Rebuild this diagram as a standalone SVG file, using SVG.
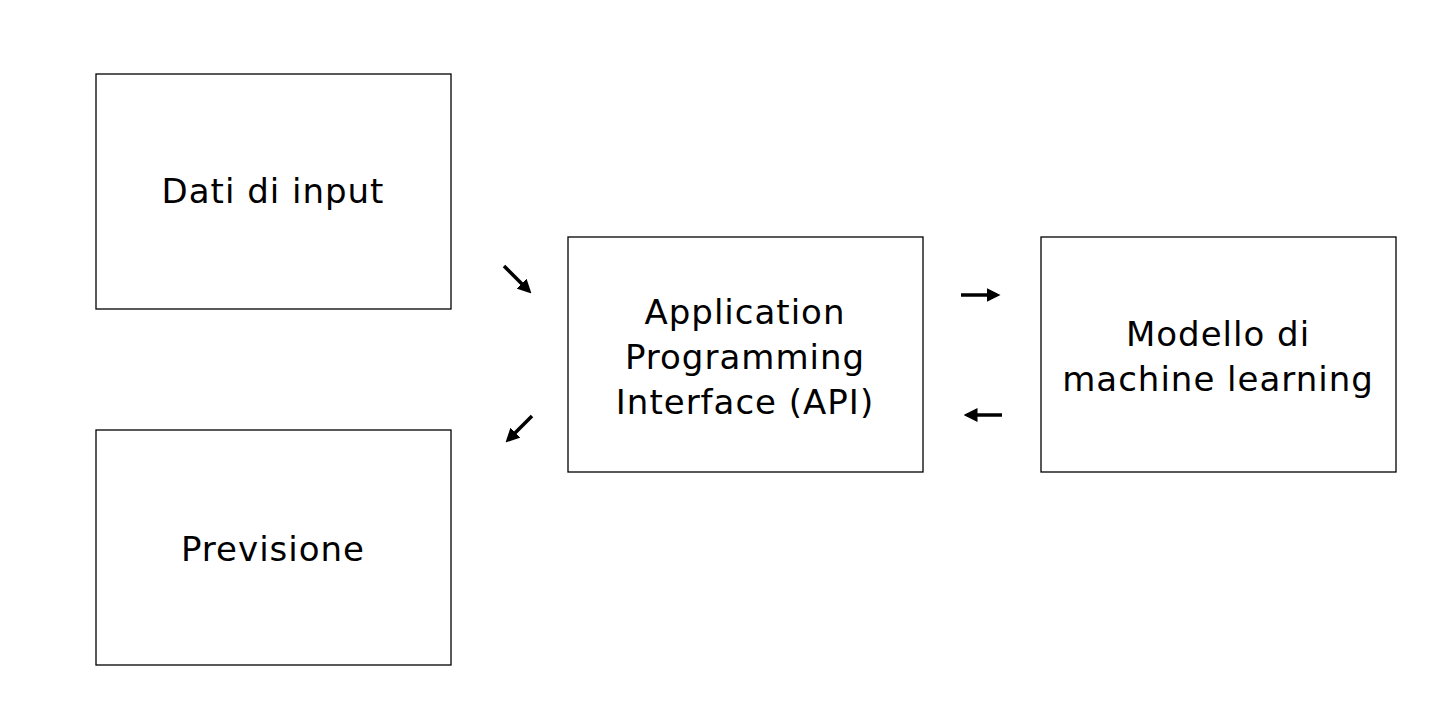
<svg xmlns="http://www.w3.org/2000/svg" width="1440" height="720" viewBox="0 0 1440 720">
<style>
.box{fill:#fff;stroke:#000;stroke-width:1.3}
text{font-family:"DejaVu Sans","Liberation Sans",sans-serif;font-size:34px;letter-spacing:1px;fill:#000;text-anchor:middle}
.c{stroke:#000;stroke-width:3.5;fill:none;marker-end:url(#ah)}
</style>
<defs><marker id="ah" markerWidth="4" markerHeight="4" refX="3" refY="2" orient="auto"><path d="M0,0 L4,2 L0,4 Z" fill="#000"/></marker></defs>
<rect width="1440" height="720" fill="#fff"/>
<g id="input"><rect class="box" x="96" y="74" width="355" height="235"/><text x="273" y="203">Dati di input</text></g>
<g id="previsione"><rect class="box" x="96" y="430" width="355" height="235"/><text x="273" y="561">Previsione</text></g>
<g id="api"><rect class="box" x="568" y="237" width="355" height="235"/><text x="745" y="324">Application</text><text x="745" y="369">Programming</text><text x="745" y="414">Interface (API)</text></g>
<g id="modello"><rect class="box" x="1041" y="237" width="355" height="235"/><text x="1218" y="346">Modello di</text><text x="1218" y="391">machine learning</text></g>
<g id="connectors">
<line class="c" x1="504" y1="266" x2="529" y2="291"/>
<line class="c" x1="532" y1="416" x2="508" y2="440"/>
<line class="c" x1="961" y1="295" x2="997" y2="295"/>
<line class="c" x1="1002" y1="415" x2="967" y2="415"/>
</g>
</svg>
